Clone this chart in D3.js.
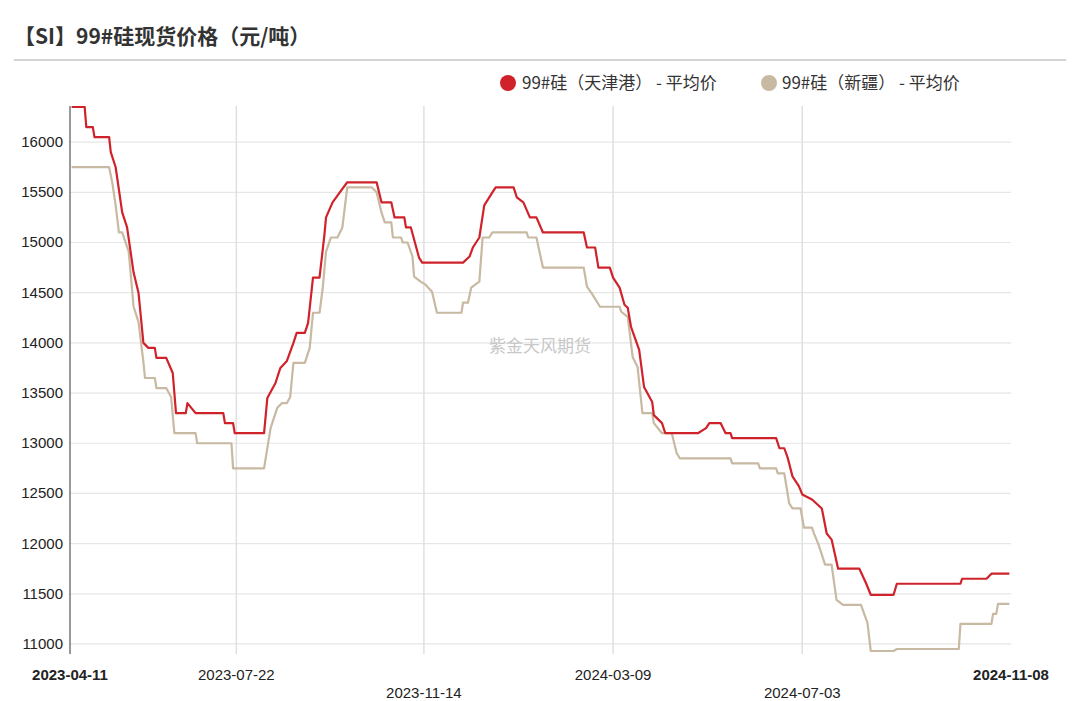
<!DOCTYPE html>
<html><head><meta charset="utf-8">
<script src="https://cdn.jsdelivr.net/npm/d3@7"></script>
<style>body{margin:0;background:#fff;font-family:"Liberation Sans","Noto Sans CJK SC",sans-serif}</style>
</head><body><svg id="c" width="1080" height="701"></svg>
<script>
const startDate = "2023-04-11";
const tickDays = [0, 102, 217, 333, 449, 577];
const tickLabels = ["2023-04-11","2023-07-22","2023-11-14","2024-03-09","2024-07-03","2024-11-08"];
const yTicks = [11000,11500,12000,12500,13000,13500,14000,14500,15000,15500,16000];
const seriesNames = ["99#硅（天津港） - 平均价","99#硅（新疆） - 平均价"];
const redDays = [1,9,10,14,15,24,25,28,32,35,39,42,45,48,52,53,59,63,65,71,72,77,94,95,100,101,119,121,126,129,133,137,139,144,146,149,153,156,157,161,165,170,188,191,197,199,205,206,209,214,216,241,245,247,251,254,259,261,272,274,278,282,286,290,315,317,322,324,331,333,337,340,342,344,349,352,357,358,363,365,385,390,392,399,402,405,406,433,435,438,440,443,447,449,455,461,464,467,471,484,488,491,505,507,546,547,562,565,576];
const redVals = [16350,16350,16150,16150,16050,16050,15900,15750,15300,15150,14700,14500,14000,13950,13950,13850,13850,13700,13300,13300,13400,13300,13300,13200,13200,13100,13100,13450,13600,13750,13820,14000,14100,14100,14200,14650,14650,15075,15250,15400,15490,15600,15600,15400,15400,15250,15250,15150,15150,14850,14800,14800,14860,14950,15050,15370,15500,15550,15550,15450,15400,15250,15250,15100,15100,14950,14950,14750,14750,14650,14550,14380,14350,14160,13930,13560,13410,13280,13200,13100,13100,13150,13200,13200,13100,13100,13050,13050,12950,12950,12860,12670,12570,12490,12440,12350,12100,12040,11750,11750,11610,11490,11490,11600,11600,11650,11650,11700,11700];
const grayDays = [1,24,26,28,30,32,36,39,42,45,46,52,53,59,62,64,77,78,99,100,119,123,127,130,133,135,137,144,147,149,153,155,157,160,164,167,170,185,188,191,193,197,198,203,204,207,210,211,215,218,222,225,240,241,244,246,251,253,257,259,280,281,286,290,315,317,320,325,337,338,342,345,348,351,357,358,363,369,372,374,405,406,422,423,433,434,438,441,443,448,450,455,456,459,463,467,470,474,485,489,491,505,507,545,546,565,566,568,569,576];
const grayVals = [15750,15750,15590,15370,15100,15100,14910,14360,14210,13810,13650,13650,13550,13550,13460,13100,13100,13000,13000,12750,12750,13150,13350,13400,13400,13460,13800,13800,13950,14300,14300,14550,14910,15050,15050,15150,15550,15550,15500,15300,15200,15200,15050,15050,15000,15000,14860,14660,14610,14580,14510,14300,14300,14400,14400,14550,14610,15050,15050,15100,15100,15050,15050,14750,14750,14560,14490,14360,14360,14310,14260,13860,13760,13300,13300,13200,13100,13100,12900,12850,12850,12800,12800,12750,12750,12700,12700,12400,12350,12350,12160,12160,12110,11990,11790,11790,11440,11390,11390,11210,10930,10930,10950,10950,11200,11200,11300,11300,11400,11400];
const colors = ["#d0222a","#c8b9a2"];

const svg = d3.select("#c");
const L=70,R=1011,T=106,B=654;
const x = d3.scaleLinear().domain([0,577]).range([L,R]);
const y = d3.scaleLinear().domain([10900,16360]).range([B,T]);

svg.append("text").attr("x",14).attr("y",44).attr("font-size",21).attr("font-weight","bold").attr("fill","#333")
  .attr("font-family","Noto Sans CJK SC").text("【SI】99#硅现货价格（元/吨）");
svg.append("line").attr("x1",14).attr("x2",1066).attr("y1",60).attr("y2",60).attr("stroke","#aaa").attr("stroke-width",1.2);

const lg = [[508,522],[769,782]];
seriesNames.forEach((n,i)=>{
  svg.append("circle").attr("cx",lg[i][0]).attr("cy",83).attr("r",8).attr("fill",colors[i]);
  svg.append("text").attr("x",lg[i][1]).attr("y",89).attr("font-size",17).attr("fill","#333")
    .attr("font-family","Noto Sans CJK SC").text(n);
});

svg.append("g").selectAll("line").data(yTicks).join("line")
  .attr("x1",L).attr("x2",R).attr("y1",d=>y(d)).attr("y2",d=>y(d)).attr("stroke","#e6e6e6").attr("stroke-width",1.2);
svg.append("g").selectAll("line").data(tickDays.slice(1,-1)).join("line")
  .attr("x1",d=>x(d)).attr("x2",d=>x(d)).attr("y1",T).attr("y2",B).attr("stroke","#e0e0e0").attr("stroke-width",1.5);
svg.append("g").selectAll("text").data(yTicks).join("text")
  .attr("x",63).attr("y",d=>y(d)+5).attr("text-anchor","end").attr("font-size",15).attr("fill","#222").text(d=>d);
svg.append("g").selectAll("text").data(tickDays).join("text")
  .attr("x",d=>x(d)).attr("y",(d,i)=>(i===2||i===4)?698:680).attr("text-anchor","middle").attr("font-size",15)
  .attr("font-weight",(d,i)=>(i===0||i===5)?"bold":"normal").attr("fill","#222").text((d,i)=>tickLabels[i]);
svg.append("line").attr("x1",L).attr("x2",L).attr("y1",T).attr("y2",B).attr("stroke","#555").attr("stroke-width",1.2);

svg.append("text").attr("x",540).attr("y",352).attr("text-anchor","middle").attr("font-size",17).attr("fill","#c8c8c8")
  .attr("font-family","Noto Sans CJK SC").text("紫金天风期货");

svg.append("clipPath").attr("id","cp").append("rect").attr("x",L).attr("y",T).attr("width",R-L).attr("height",B-T);
const line = d3.line().x(d=>x(d[0])).y(d=>y(d[1]));
[[grayDays,grayVals],[redDays,redVals]].forEach((s,k)=>{
  svg.append("path").attr("clip-path","url(#cp)").datum(d3.zip(s[0],s[1])).attr("d",line)
    .attr("fill","none").attr("stroke",colors[1-k]).attr("stroke-width",2.2).attr("stroke-linejoin","round");
});
</script></body></html>
